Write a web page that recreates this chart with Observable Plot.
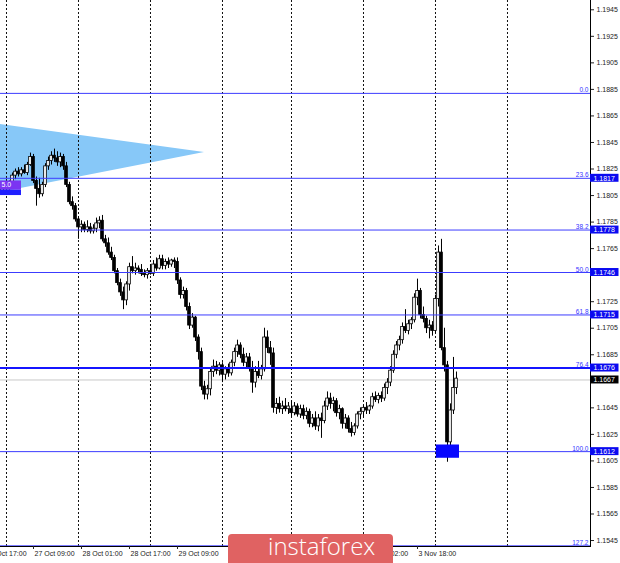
<!DOCTYPE html>
<html><head><meta charset="utf-8">
<script src="https://cdn.jsdelivr.net/npm/d3@7"></script>
<script src="https://cdn.jsdelivr.net/npm/@observablehq/plot@0.6"></script>
<style>
html,body{margin:0;padding:0;background:#fff;}
#chart{width:620px;height:563px;overflow:hidden;}
</style></head>
<body><div id="chart"></div>
<script>
// ---- data (EURUSD H1) ----
const startIndex = -2;
const open = [1.1812,1.1810,1.1813,1.1811,1.1815,1.1820,1.1823,1.1821,1.1824,1.1822,1.1828,1.1834,1.1816,1.1810,1.1806,1.1813,1.1827,1.1831,1.1835,1.1833,1.1830,1.1834,1.1827,1.1813,1.1800,1.1797,1.1787,1.1781,1.1783,1.1779,1.1781,1.1778,1.1780,1.1784,1.1786,1.1772,1.1769,1.1762,1.1758,1.1748,1.1739,1.1732,1.1726,1.1738,1.1751,1.1748,1.1750,1.1749,1.1746,1.1745,1.1748,1.1746,1.1753,1.1750,1.1757,1.1752,1.1755,1.1753,1.1756,1.1755,1.1741,1.1730,1.1733,1.1721,1.1707,1.1713,1.1698,1.1687,1.1661,1.1655,1.1659,1.1672,1.1676,1.1673,1.1677,1.1670,1.1674,1.1671,1.1679,1.1687,1.1692,1.1685,1.1679,1.1683,1.1675,1.1664,1.1672,1.1669,1.1674,1.1698,1.1690,1.1686,1.1645,1.1648,1.1644,1.1646,1.1644,1.1644,1.1641,1.1646,1.1640,1.1644,1.1639,1.1642,1.1633,1.1637,1.1631,1.1637,1.1635,1.1646,1.1652,1.1648,1.1650,1.1641,1.1644,1.1633,1.1637,1.1629,1.1626,1.1631,1.1640,1.1642,1.1645,1.1643,1.1646,1.1653,1.1651,1.1654,1.1652,1.1660,1.1664,1.1673,1.1685,1.1692,1.1696,1.1706,1.1703,1.1708,1.1711,1.1728,1.1733,1.1715,1.1712,1.1705,1.1707,1.1703,1.1727,1.1762,1.1690,1.1677,1.1619,1.1643,1.1660];
const high = [1.1815,1.1814,1.1817,1.1816,1.1822,1.1825,1.1826,1.1826,1.1828,1.1830,1.1837,1.1836,1.1819,1.1818,1.1815,1.1829,1.1834,1.1838,1.1840,1.1838,1.1837,1.1836,1.1830,1.1815,1.1804,1.1799,1.1789,1.1786,1.1785,1.1786,1.1784,1.1783,1.1788,1.1789,1.1790,1.1775,1.1773,1.1766,1.1760,1.1750,1.1742,1.1736,1.1740,1.1754,1.1759,1.1754,1.1752,1.1753,1.1749,1.1750,1.1753,1.1756,1.1758,1.1760,1.1760,1.1757,1.1758,1.1757,1.1758,1.1758,1.1743,1.1736,1.1735,1.1724,1.1716,1.1714,1.1700,1.1690,1.1665,1.1662,1.1675,1.1681,1.1680,1.1679,1.1679,1.1676,1.1678,1.1681,1.1690,1.1696,1.1694,1.1690,1.1686,1.1686,1.1680,1.1676,1.1680,1.1677,1.1705,1.1703,1.1695,1.1690,1.1652,1.1653,1.1650,1.1652,1.1649,1.1650,1.1649,1.1648,1.1647,1.1647,1.1645,1.1644,1.1640,1.1642,1.1640,1.1641,1.1650,1.1657,1.1656,1.1653,1.1652,1.1647,1.1645,1.1640,1.1639,1.1634,1.1633,1.1642,1.1645,1.1647,1.1649,1.1647,1.1656,1.1657,1.1656,1.1657,1.1663,1.1667,1.1676,1.1688,1.1695,1.1699,1.1709,1.1719,1.1711,1.1713,1.1731,1.1742,1.1735,1.1721,1.1714,1.1711,1.1710,1.1730,1.1767,1.1772,1.1705,1.1680,1.1648,1.1683,1.1672];
const low = [1.1808,1.1807,1.1810,1.1809,1.1812,1.1817,1.1819,1.1819,1.1821,1.1820,1.1827,1.1814,1.1797,1.1803,1.1804,1.1811,1.1824,1.1828,1.1830,1.1827,1.1826,1.1824,1.1811,1.1798,1.1794,1.1785,1.1772,1.1777,1.1777,1.1777,1.1776,1.1776,1.1777,1.1780,1.1770,1.1766,1.1760,1.1756,1.1746,1.1737,1.1729,1.1719,1.1722,1.1733,1.1746,1.1745,1.1746,1.1744,1.1743,1.1742,1.1745,1.1744,1.1748,1.1749,1.1749,1.1749,1.1750,1.1751,1.1750,1.1738,1.1727,1.1727,1.1718,1.1704,1.1705,1.1695,1.1681,1.1658,1.1651,1.1651,1.1654,1.1668,1.1670,1.1669,1.1664,1.1666,1.1668,1.1669,1.1676,1.1683,1.1682,1.1676,1.1675,1.1672,1.1656,1.1660,1.1667,1.1666,1.1672,1.1686,1.1677,1.1641,1.1640,1.1641,1.1640,1.1642,1.1640,1.1638,1.1639,1.1638,1.1637,1.1636,1.1636,1.1630,1.1630,1.1628,1.1627,1.1622,1.1633,1.1643,1.1644,1.1642,1.1638,1.1636,1.1629,1.1629,1.1626,1.1623,1.1624,1.1629,1.1636,1.1638,1.1640,1.1640,1.1644,1.1649,1.1648,1.1649,1.1650,1.1655,1.1661,1.1671,1.1682,1.1688,1.1693,1.1701,1.1700,1.1704,1.1709,1.1722,1.1712,1.1709,1.1701,1.1697,1.1699,1.1701,1.1721,1.1688,1.1672,1.1604,1.1610,1.1640,1.1655];
const close = [1.1810,1.1813,1.1811,1.1815,1.1820,1.1823,1.1821,1.1824,1.1822,1.1828,1.1834,1.1816,1.1810,1.1806,1.1813,1.1827,1.1831,1.1835,1.1833,1.1830,1.1834,1.1827,1.1813,1.1800,1.1797,1.1787,1.1781,1.1783,1.1779,1.1781,1.1778,1.1780,1.1784,1.1786,1.1772,1.1769,1.1762,1.1758,1.1748,1.1739,1.1732,1.1726,1.1738,1.1751,1.1748,1.1750,1.1749,1.1746,1.1745,1.1748,1.1746,1.1753,1.1750,1.1757,1.1752,1.1755,1.1753,1.1756,1.1755,1.1741,1.1730,1.1733,1.1721,1.1707,1.1713,1.1698,1.1687,1.1661,1.1655,1.1659,1.1672,1.1676,1.1673,1.1677,1.1670,1.1674,1.1671,1.1679,1.1687,1.1692,1.1685,1.1679,1.1683,1.1675,1.1664,1.1672,1.1669,1.1674,1.1698,1.1690,1.1686,1.1645,1.1648,1.1644,1.1646,1.1644,1.1646,1.1641,1.1646,1.1640,1.1644,1.1639,1.1642,1.1633,1.1637,1.1631,1.1637,1.1635,1.1646,1.1652,1.1648,1.1650,1.1641,1.1644,1.1633,1.1637,1.1629,1.1626,1.1631,1.1640,1.1642,1.1645,1.1643,1.1646,1.1653,1.1651,1.1654,1.1652,1.1660,1.1664,1.1673,1.1685,1.1692,1.1696,1.1706,1.1703,1.1708,1.1711,1.1728,1.1733,1.1715,1.1712,1.1705,1.1707,1.1703,1.1727,1.1762,1.1690,1.1677,1.1619,1.1643,1.1660,1.1667];

const dayStarts = [0, 24, 48, 72, 95, 119, 143, 167];
const timeTickIdx = [-7, 9, 25, 41, 57, 121, 137];
const timeTickLabels = ["26 Oct 17:00","27 Oct 09:00","28 Oct 01:00","28 Oct 17:00","29 Oct 09:00","3 Nov 02:00","3 Nov 18:00"];
const yTicks = [1.1945,1.1925,1.1905,1.1885,1.1865,1.1845,1.1825,1.1805,1.1785,1.1765,1.1725,1.1705,1.1685,1.1645,1.1625,1.1605,1.1585,1.1565,1.1545];
const fibLevels = [1.1882, 1.1818, 1.1779, 1.1747, 1.1715, 1.1675, 1.1612, 1.1541];
const fibNames = ["0.0","23.6","38.2","50.0","61.8","76.4","100.0","127.2"];
const boxLevels = [1.1818, 1.1779, 1.1747, 1.1715, 1.1675, 1.1612];
const boxLabels = ["1.1817","1.1778","1.1746","1.1715","1.1676","1.1612"];
const lastPrice = 1.1666, lastLabel = "1.1667";
const triangle = [{i: -2, lo: 1.18073, hi: 1.18585}, {i: 66, lo: 1.18374, hi: 1.18374}];
const purpleBox = [{i1: -2, i2: 5, p1: 1.1809, p2: 1.1816}];
const purpleStrip = [{i1: -2, i2: 5, p1: 1.1805, p2: 1.1809}];
const blueRect = [{i1: 143.3, i2: 151, p1: 1.1607, p2: 1.1617}];

// ---- build ----
const bars = close.map((c, k) => ({i: startIndex + k, o: open[k], h: high[k], l: low[k], c}));
const fib = fibLevels.map((v, k) => ({v, name: fibNames[k], thick: fibNames[k] === "76.4"}));
const boxes = boxLevels.map((v, k) => ({v, label: boxLabels[k]}));
const timeTicks = timeTickIdx.map((i, k) => ({i, label: timeTickLabels[k]}));
const xDomain = [-2, 194.67];
const yDomain = [1.15405, 1.1952];
const xBox = [xDomain[1], xDomain[1] + 9.5];
const halfBox = 0.0003;

const svg = Plot.plot({
  width: 620, height: 563,
  marginLeft: 0, marginRight: 30, marginTop: 0, marginBottom: 17,
  style: {fontFamily: "'Liberation Sans', Arial, sans-serif", fontSize: "7px", background: "#fff", color: "#222"},
  x: {type: "linear", domain: xDomain, axis: null},
  y: {domain: yDomain, axis: null},
  marks: [
    Plot.areaY(triangle, {x: "i", y1: "lo", y2: "hi", fill: "#87c8f8", curve: "linear"}),
    Plot.ruleX(dayStarts, {stroke: "#111", strokeDasharray: "2,2", strokeWidth: 1}),
    Plot.ruleY([lastPrice], {stroke: "#c8c8c8", strokeWidth: 1}),
    Plot.ruleX(bars, {x: "i", y1: "l", y2: "h", stroke: "#000", strokeWidth: 1}),
    Plot.rect(bars, {x1: d => d.i - 0.45, x2: d => d.i + 0.45, y1: "o", y2: "c",
      fill: d => d.c >= d.o ? "#f4f4f4" : "#000", stroke: "#000", strokeWidth: 0.8}),
    Plot.ruleY(fib.filter(d => !d.thick), {y: "v", stroke: "#3c3cff", strokeWidth: 1}),
    Plot.ruleY(fib.filter(d => d.thick), {y: "v", stroke: "#1515ff", strokeWidth: 2}),
    Plot.rect(purpleBox, {x1: "i1", x2: "i2", y1: "p1", y2: "p2", fill: "#7b35f2"}),
    Plot.rect(purpleStrip, {x1: "i1", x2: "i2", y1: "p1", y2: "p2", fill: "#1f1fff"}),
    Plot.text(purpleBox, {x: "i1", y: "p2", text: () => "5.0", textAnchor: "start", lineAnchor: "top", dx: 1, dy: 1, fill: "#fff", fontSize: 7}),
    Plot.rect(blueRect, {x1: "i1", x2: "i2", y1: "p1", y2: "p2", fill: "#0808ff"}),
    Plot.text(fib, {y: "v", text: "name", frameAnchor: "right", textAnchor: "end", lineAnchor: "bottom", dx: -2, dy: -1, fill: "#3535ff", fontSize: 6.5}),
    Plot.frame({anchor: "right", stroke: "#000"}),
    Plot.frame({anchor: "bottom", stroke: "#000"}),
    Plot.axisY(yTicks, {anchor: "right", tickSize: 3, tickPadding: 3, tickFormat: d3.format(".4f"), fontSize: 7, color: "#222"}),
    Plot.rect(boxes, {x1: () => xBox[0], x2: () => xBox[1], y1: d => d.v - halfBox, y2: d => d.v + halfBox, fill: "#0a0af0"}),
    Plot.text(boxes, {y: "v", text: "label", frameAnchor: "right", textAnchor: "start", dx: 3, fill: "#fff", fontSize: 7}),
    Plot.rect([lastPrice], {x1: () => xBox[0], x2: () => xBox[1], y1: d => d - halfBox, y2: d => d + halfBox, fill: "#000"}),
    Plot.text([lastLabel], {y: () => lastPrice, text: d => d, frameAnchor: "right", textAnchor: "start", dx: 3, fill: "#fff", fontSize: 7}),
    Plot.axisX(timeTickIdx, {anchor: "bottom", tickSize: 3, tickFormat: () => "", color: "#222"}),
    Plot.text(timeTicks, {x: "i", text: "label", frameAnchor: "bottom", textAnchor: "start", lineAnchor: "top", dx: 1, dy: 5, fill: "#222", fontSize: 7})
  ]
});

// watermark
const s = d3.select(svg);
s.append("rect").attr("x", 228).attr("y", 534).attr("width", 165).attr("height", 34).attr("rx", 4).attr("fill", "#e06262");
s.append("text").attr("x", 268).attr("y", 555).attr("fill", "#fff").attr("text-anchor", "start")
  .style("font-family", "'Open Sans', sans-serif").style("font-size", "24px").style("font-weight", "300")
  .text("instaforex");

document.getElementById("chart").appendChild(svg);
</script>
</body></html>
